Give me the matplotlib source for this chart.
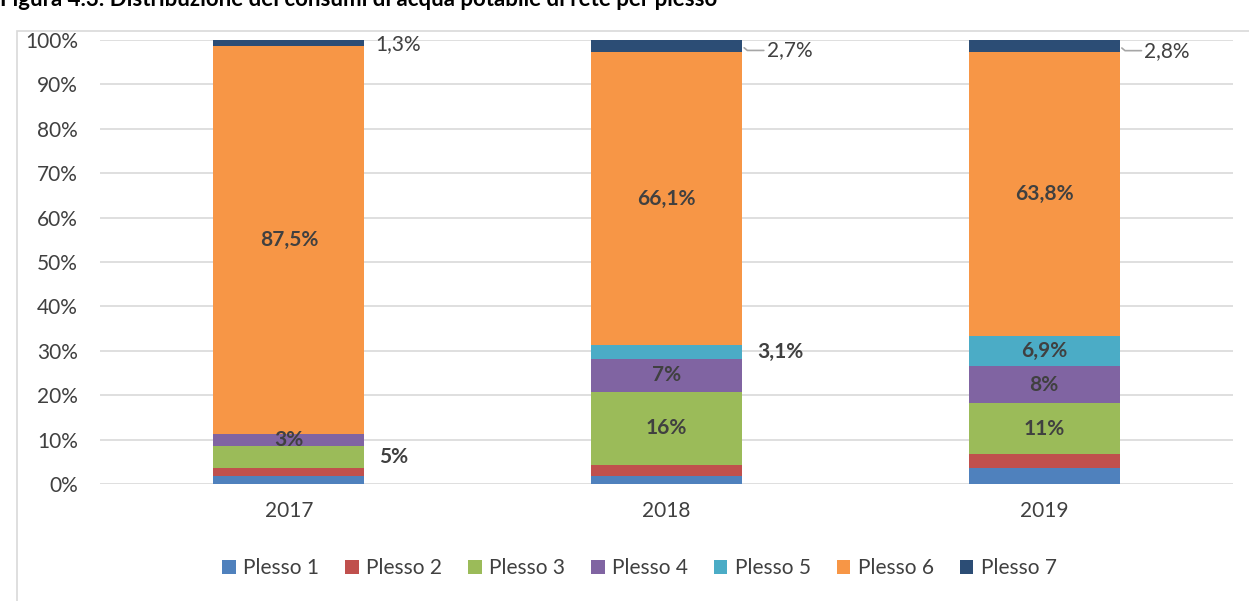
"""Distribuzione dei consumi di acqua potabile di rete per plesso (stacked 100% bars)."""

import matplotlib
matplotlib.use("Agg")
import matplotlib.pyplot as plt
from matplotlib.patches import Rectangle
from matplotlib.ticker import PercentFormatter

YEARS = ["2017", "2018", "2019"]
SERIES = ["Plesso 1", "Plesso 2", "Plesso 3", "Plesso 4", "Plesso 5", "Plesso 6", "Plesso 7"]
PLESSO_1 = [1.8, 1.9, 3.6]
PLESSO_2 = [1.8, 2.4, 3.1]
PLESSO_3 = [5.0, 16.5, 11.5]
PLESSO_4 = [2.6, 7.3, 8.3]
PLESSO_5 = [0.0, 3.1, 6.9]
PLESSO_6 = [87.5, 66.1, 63.8]
PLESSO_7 = [1.3, 2.7, 2.8]
VALUES = [PLESSO_1, PLESSO_2, PLESSO_3, PLESSO_4, PLESSO_5, PLESSO_6, PLESSO_7]
COLORS = ["#4f81bd", "#c0504d", "#9bbb59", "#8064a2", "#4bacc6", "#f79646", "#2c4d75"]

# (series index, year index, label text, placement)
LABELS = [
    (5, 0, "87,5%", "in"), (3, 0, "3%", "in"), (2, 0, "5%", "out"), (6, 0, "1,3%", "out_plain"),
    (5, 1, "66,1%", "in"), (4, 1, "3,1%", "out"), (3, 1, "7%", "in"), (2, 1, "16%", "in"),
    (6, 1, "2,7%", "leader"),
    (5, 2, "63,8%", "in"), (4, 2, "6,9%", "in"), (3, 2, "8%", "in"), (2, 2, "11%", "in"),
    (6, 2, "2,8%", "leader"),
]

plt.rcParams["font.family"] = ["Lato", "DejaVu Sans"]
TEXT = "#404040"
WIDTH = 0.4
FS = 15

fig = plt.figure(figsize=(12.49, 6.01), dpi=100)
fig.patches.append(Rectangle((17 / 1249, -0.01), 1.0, 1 - 31 / 601 + 0.01, transform=fig.transFigure,
                             fill=False, edgecolor="#d9d9d9", linewidth=1.2))
fig.text(0.0, 1 - 6 / 601, "Figura 4.3: Distribuzione dei consumi di acqua potabile di rete per plesso",
         fontsize=16, fontweight="bold", color="black", va="baseline", ha="left")

ax = fig.add_axes([100 / 1249, 1 - 484 / 601, (1233 - 100) / 1249, (484 - 40) / 601])
x = list(range(len(YEARS)))
bottoms = [0.0] * len(YEARS)
starts = []
for name, vals, color in zip(SERIES, VALUES, COLORS):
    ax.bar(x, vals, WIDTH, bottom=bottoms, color=color, label=name, zorder=3)
    starts.append(list(bottoms))
    bottoms = [b + v for b, v in zip(bottoms, vals)]

for si, yi, text, mode in LABELS:
    yc = starts[si][yi] + VALUES[si][yi] / 2
    if mode == "in":
        ax.text(yi, yc, text, ha="center", va="center", fontsize=FS, fontweight="bold", color=TEXT, zorder=4)
    elif mode == "out":
        ax.text(yi + WIDTH / 2 + 0.04, yc, text, ha="left", va="center", fontsize=FS,
                fontweight="bold", color=TEXT, zorder=4)
    elif mode == "out_plain":
        ax.text(yi + WIDTH / 2 + 0.03, yc - 0.3, text, ha="left", va="center", fontsize=FS,
                color=TEXT, zorder=4)
    else:
        ax.annotate(text, xy=(yi + WIDTH / 2, yc), xytext=(yi + WIDTH / 2 + 0.065, yc - 1.0),
                    ha="left", va="center", fontsize=FS, color=TEXT, zorder=4,
                    arrowprops=dict(arrowstyle="-", color="#a6a6a6", linewidth=1.2,
                                    shrinkA=0, shrinkB=2, connectionstyle="angle,angleA=0,angleB=-40,rad=0"))

ax.set_xlim(-0.5, 2.5)
ax.set_ylim(0, 100)
ax.set_yticks(range(0, 101, 10))
ax.yaxis.set_major_formatter(PercentFormatter(decimals=0))
ax.set_xticks(x)
ax.set_xticklabels(YEARS)
ax.tick_params(axis="both", length=0, labelsize=FS, labelcolor=TEXT)
ax.tick_params(axis="y", pad=16)
ax.tick_params(axis="x", pad=12)
ax.grid(axis="y", color="#d9d9d9", linewidth=1.2, zorder=0)
for spine in ax.spines.values():
    spine.set_visible(False)

ax.legend(loc="center", bbox_to_anchor=(0.512, (601 - 568) / 601), bbox_transform=fig.transFigure,
          ncol=7, frameon=False, fontsize=FS, handlelength=0.65, handleheight=0.65,
          handletextpad=0.35, columnspacing=1.25, labelcolor=TEXT)

fig.savefig("out.png", dpi=100)
